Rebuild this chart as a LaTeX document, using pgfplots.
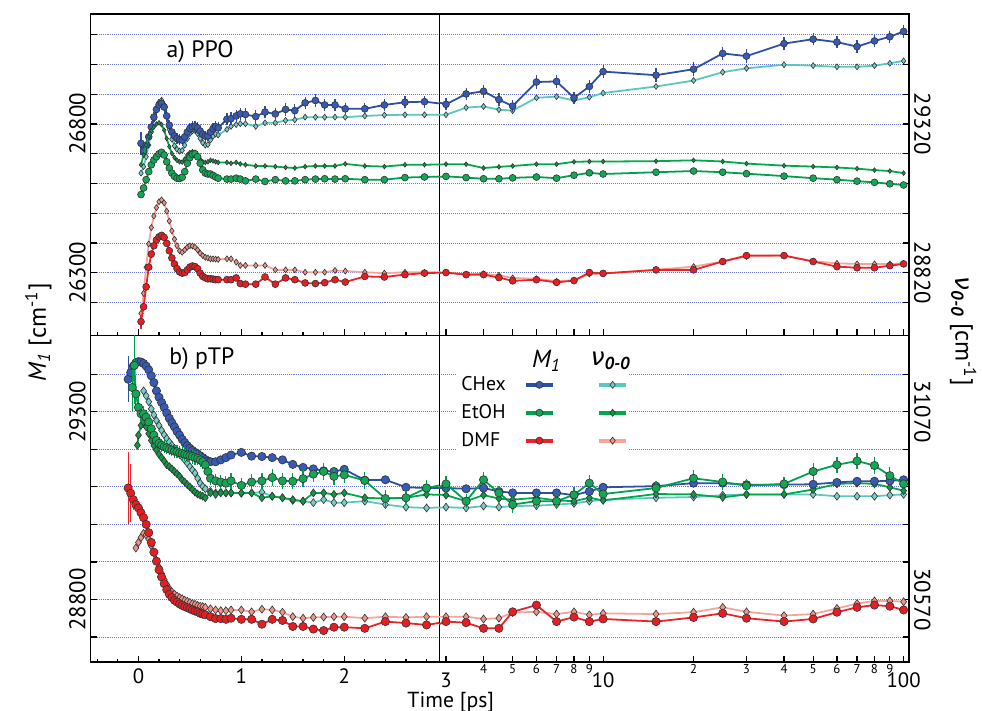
\documentclass[border=0pt]{standalone}
\usepackage{fontspec}
\setmainfont{PT Sans}
\newfontfamily\dv{DejaVu Sans}
\usepackage{pgfplots}
\usepackage{pgfplotstable}
\pgfplotsset{compat=1.18}

\definecolor{cM}{RGB}{45,80,165}
\definecolor{cMf}{RGB}{55,90,180}
\definecolor{cN}{RGB}{90,200,190}
\definecolor{cNf}{RGB}{120,205,200}
\definecolor{eM}{RGB}{0,160,80}
\definecolor{eMf}{RGB}{20,165,85}
\definecolor{eN}{RGB}{0,170,75}
\definecolor{eNf}{RGB}{20,150,70}
\definecolor{dM}{RGB}{235,35,40}
\definecolor{dMf}{RGB}{230,30,35}
\definecolor{dN}{RGB}{245,165,155}
\definecolor{dNf}{RGB}{235,150,140}
\definecolor{mk}{RGB}{50,50,50}
\definecolor{gridblue}{RGB}{110,120,220}

\pgfplotsset{
  panel/.style={scale only axis, anchor=north west, clip marker paths=true,
    scaled ticks=false,
    axis line style={line width=0.7pt}, tick align=inside,
    every tick/.style={black, line width=0.6pt},
    major tick length=3pt, minor tick length=1.8pt,
    xtick pos=left, yticklabels={},
    ymajorgrids, major grid style={gridblue, line width=0.45pt, dash pattern=on 0.5pt off 0.5pt},
    /pgf/number format/assume math mode=true,
    filter discard warning=false,
    xticklabel style={font=\fontsize{10.5}{12}\selectfont}},
  lin/.style={panel, xmin=-0.464, xmax=2.923, width=176.15pt, xtick={0,1,2},
    minor xtick={-0.4,-0.2,0.2,0.4,0.6,0.8,1.2,1.4,1.6,1.8,2.2,2.4,2.6,2.8},
    ytick pos=left},
  lg/.style={panel, xmin=2.848, xmax=104.3, width=237.5pt, xtick={3,10,100},
    extra x ticks={4,5,6,7,8,9,20,30,40,50,60,70,80,90},
    ytick pos=right},
  pa/.style={height=162.5pt, ymin=26090, ymax=27170, ytick={26200,26300,...,27100}},
  pb/.style={height=165.15pt, ymin=28633, ymax=29504, ytick={28700,28800,...,29400}},
  sCM/.style={draw=cM, line width=0.9pt, mark=*, mark size=#1, mark options={fill=cMf, draw=mk, line width=0.3pt}, forget plot},
  sCN/.style={draw=cN, line width=0.9pt, mark=diamond*, mark size=#1, mark options={fill=cNf, draw=mk, line width=0.3pt}, forget plot},
  sEM/.style={draw=eM, line width=0.9pt, mark=*, mark size=#1, mark options={fill=eMf, draw=mk, line width=0.3pt}, forget plot},
  sEN/.style={draw=eN, line width=0.9pt, mark=diamond*, mark size=#1, mark options={fill=eNf, draw=mk, line width=0.3pt}, forget plot},
  sDM/.style={draw=dM, line width=0.9pt, mark=*, mark size=#1, mark options={fill=dMf, draw=mk, line width=0.3pt}, forget plot},
  sDN/.style={draw=dN, line width=0.9pt, mark=diamond*, mark size=#1, mark options={fill=dNf, draw=mk, line width=0.3pt}, forget plot},
  ebar/.style={error bars/.cd, y dir=both, y explicit, error bar style={#1, line width=0.6pt},
    error mark options={#1, mark size=1.3pt, line width=0.6pt}},
}

\begin{document}

% ---------- a) PPO ----------
\pgfplotstableread{
t v e
0.025 26735 30
0.05 26709 12
0.075 26729 10
0.1 26757 10
0.125 26790 10
0.15 26823 10
0.175 26849 10
0.2 26864 10
0.225 26869 10
0.25 26857 10
0.275 26827 10
0.3 26796 10
0.325 26773 10
0.35 26760 10
0.375 26751 10
0.4 26747 10
0.425 26746 10
0.45 26757 10
0.475 26773 10
0.5 26785 10
0.525 26791 10
0.55 26793 10
0.575 26787 10
0.6 26776 10
0.625 26765 10
0.65 26759 10
0.675 26760 10
0.7 26773 10
0.725 26785 10
0.75 26791 10
0.775 26787 10
0.86 26816 12
0.90 26818 12
0.95 26827 12
0.99 26834 12
1.04 26832 12
1.14 26825 12
1.23 26840 12
1.33 26834 12
1.43 26849 12
1.52 26845 12
1.62 26871 12
1.72 26879 12
1.81 26864 12
1.91 26864 12
2.01 26851 12
2.2 26851 10
2.39 26864 12
2.59 26873 12
2.78 26875 12
3 26866 12
3.5 26901 12
4 26910 14
4.5 26882 12
5 26860 12
6 26941 14
7 26943 14
8 26888 12
9 26926 14
10 26976 14
15 26964 14
20 26984 14
25 27037 14
30 27028 14
40 27070 14
50 27085 12
60 27075 12
70 27060 12
80 27079 12
90 27093 12
100 27111 12
}\aCM

\pgfplotstableread{
t v
0.025 29155
0.05 29177
0.075 29210
0.1 29249
0.125 29293
0.15 29336
0.175 29371
0.2 29393
0.225 29400
0.25 29384
0.275 29347
0.3 29302
0.325 29269
0.35 29247
0.375 29235
0.4 29229
0.425 29231
0.45 29249
0.475 29271
0.5 29288
0.525 29297
0.55 29298
0.575 29288
0.6 29271
0.625 29257
0.65 29249
0.675 29251
0.7 29266
0.725 29279
0.75 29286
0.775 29283
0.86 29302
0.90 29312
0.95 29318
0.99 29321
1.04 29321
1.14 29312
1.23 29324
1.33 29324
1.43 29332
1.52 29334
1.62 29343
1.72 29343
1.81 29343
1.91 29343
2.01 29343
2.2 29347
2.39 29350
2.59 29351
2.78 29351
3 29351
3.5 29375
4 29379
4.5 29368
5 29365
6 29408
7 29412
8 29399
9 29410
10 29424
15 29446
20 29466
25 29494
30 29507
40 29519
50 29516
60 29512
70 29512
80 29516
90 29524
100 29532
}\aCN

\pgfplotstableread{
t v
0.025 26563
0.05 26585
0.075 26613
0.1 26640
0.125 26663
0.15 26679
0.175 26690
0.2 26700
0.225 26705
0.25 26696
0.275 26673
0.3 26652
0.325 26635
0.35 26624
0.375 26618
0.4 26617
0.425 26621
0.45 26640
0.475 26668
0.5 26687
0.525 26698
0.55 26700
0.575 26690
0.6 26668
0.625 26646
0.65 26635
0.675 26632
0.7 26632
0.725 26627
0.75 26622
0.775 26618
0.86 26615
0.90 26615
0.95 26618
0.99 26615
1.04 26609
1.14 26615
1.23 26607
1.33 26613
1.43 26609
1.52 26609
1.62 26613
1.72 26615
1.81 26616
1.91 26615
2.01 26616
2.2 26613
2.39 26613
2.59 26620
2.78 26622
3 26624
3.5 26620
4 26616
4.5 26616
5 26619
6 26622
7 26618
8 26628
9 26636
10 26632
15 26638
20 26642
25 26638
30 26633
40 26625
50 26618
60 26613
70 26608
80 26604
90 26599
100 26595
}\aEM

\pgfplotstableread{
t v
0.025 29183
0.05 29216
0.075 29249
0.1 29277
0.125 29297
0.15 29310
0.175 29320
0.2 29324
0.225 29318
0.25 29299
0.275 29271
0.3 29244
0.325 29221
0.35 29207
0.375 29198
0.4 29193
0.425 29192
0.45 29202
0.475 29216
0.5 29224
0.525 29227
0.55 29225
0.575 29216
0.6 29202
0.625 29193
0.65 29191
0.675 29193
0.7 29198
0.725 29196
0.75 29193
0.775 29191
0.86 29191
0.90 29188
0.95 29191
0.99 29186
1.04 29183
1.14 29179
1.23 29179
1.33 29177
1.43 29174
1.52 29172
1.62 29177
1.72 29179
1.81 29179
1.91 29179
2.01 29186
2.2 29179
2.39 29177
2.59 29183
2.78 29183
3 29185
3.5 29185
4 29172
4.5 29176
5 29179
6 29185
7 29185
8 29193
9 29194
10 29194
15 29195
20 29198
25 29194
30 29187
40 29180
50 29177
60 29174
70 29170
80 29165
90 29162
100 29155
}\aEN

\pgfplotstableread{
t v e
0.025 26136 15
0.05 26186 6
0.075 26253 0
0.1 26319 0
0.125 26363 0
0.15 26391 0
0.175 26410 0
0.2 26421 0
0.225 26426 0
0.25 26419 0
0.275 26399 0
0.3 26374 0
0.325 26350 0
0.35 26330 0
0.375 26314 0
0.4 26303 0
0.425 26299 0
0.45 26301 0
0.475 26310 0
0.5 26319 0
0.525 26323 0
0.55 26321 0
0.575 26314 0
0.6 26299 0
0.625 26288 0
0.65 26283 0
0.675 26280 0
0.7 26280 0
0.725 26279 0
0.75 26277 0
0.775 26277 0
0.86 26277 0
0.90 26277 0
0.95 26283 0
0.99 26264 0
1.04 26262 0
1.14 26262 0
1.23 26286 0
1.33 26262 0
1.43 26283 0
1.52 26277 0
1.62 26266 0
1.72 26264 0
1.81 26267 0
1.91 26277 0
2.01 26269 0
2.2 26288 0
2.39 26286 0
2.59 26294 0
2.78 26299 0
3 26301 0
3.5 26294 0
4 26294 0
4.5 26284 0
5 26273 0
6 26277 0
7 26268 0
8 26274 0
9 26301 0
10 26298 0
15 26310 0
20 26310 0
25 26338 0
30 26358 0
40 26358 0
50 26338 0
60 26321 0
70 26317 0
80 26317 0
90 26324 0
100 26330 0
}\aDM

\pgfplotstableread{
t v
0.025 28684
0.05 28751
0.075 28839
0.1 28917
0.125 28972
0.15 29011
0.175 29039
0.2 29059
0.225 29065
0.25 29055
0.275 29027
0.3 28994
0.325 28961
0.35 28933
0.375 28911
0.4 28894
0.425 28889
0.45 28897
0.475 28906
0.5 28911
0.525 28910
0.55 28906
0.575 28897
0.6 28886
0.625 28878
0.65 28872
0.675 28870
0.7 28867
0.725 28867
0.75 28866
0.775 28865
0.86 28867
0.90 28867
0.95 28856
0.99 28845
1.04 28845
1.14 28845
1.23 28845
1.33 28830
1.43 28830
1.52 28830
1.62 28822
1.72 28822
1.81 28822
1.91 28828
2.01 28826
2.2 28822
2.39 28819
2.59 28822
2.78 28822
3 28821
3.5 28814
4 28817
4.5 28812
5 28803
6 28800
7 28792
8 28795
9 28816
10 28817
15 28830
20 28841
25 28858
30 28875
40 28878
50 28859
60 28852
70 28850
80 28850
90 28850
100 28852
}\aDN

% ---------- b) pTP ----------
\pgfplotstableread{
t v e
-0.1 29387 55
-0.075 29405 0
-0.05 29422 0
-0.025 29431 0
0 29434 0
0.025 29433 0
0.05 29429 0
0.075 29422 0
0.1 29412 0
0.125 29396 0
0.15 29378 0
0.175 29356 0
0.2 29339 0
0.225 29325 0
0.25 29312 0
0.275 29297 0
0.3 29283 0
0.325 29271 0
0.35 29260 0
0.375 29248 0
0.4 29238 0
0.425 29227 0
0.45 29218 0
0.475 29210 0
0.5 29203 0
0.525 29197 0
0.55 29192 0
0.575 29188 0
0.6 29183 0
0.625 29178 0
0.65 29173 0
0.675 29169 0
0.7 29167 0
0.75 29167 0
0.8 29172 0
0.85 29178 0
0.9 29185 0
1.0 29192 0
1.1 29182 0
1.2 29181 0
1.3 29178 0
1.4 29172 0
1.5 29160 0
1.6 29152 0
1.7 29148 0
1.8 29143 0
1.9 29141 0
2.0 29147 0
2.2 29118 0
2.4 29119 0
2.6 29099 0
2.8 29097 0
3 29097 0
3.5 29095 0
4 29097 0
4.5 29088 0
5 29084 0
6 29084 0
7 29084 0
8 29078 0
9 29088 0
10 29099 0
15 29102 0
20 29110 0
25 29110 0
30 29106 0
40 29106 0
50 29107 0
60 29112 0
70 29115 0
80 29115 0
90 29116 0
100 29119 0
}\bCM

\pgfplotstableread{
t v
0.05 31126
0.075 31113
0.1 31097
0.125 31078
0.15 31062
0.175 31047
0.2 31034
0.225 31021
0.25 31009
0.275 30999
0.3 30990
0.325 30981
0.35 30973
0.375 30964
0.4 30957
0.425 30950
0.45 30942
0.475 30933
0.5 30924
0.525 30915
0.55 30907
0.575 30893
0.6 30880
0.625 30871
0.65 30865
0.7 30858
0.75 30854
0.8 30856
0.85 30854
0.9 30854
1.0 30853
1.1 30854
1.2 30856
1.3 30845
1.4 30841
1.5 30834
1.6 30832
1.7 30828
1.8 30836
1.9 30828
2.0 30828
2.2 30832
2.4 30823
2.6 30816
2.8 30814
3 30816
3.5 30814
4 30819
4.5 30816
5 30819
6 30820
7 30823
8 30826
9 30832
10 30836
15 30841
20 30843
25 30848
30 30850
40 30850
50 30850
60 30845
70 30845
80 30845
90 30848
100 30850
}\bCN

\pgfplotstableread{
t v e
-0.06 29365 55
-0.04 29424 95
-0.025 29348 40
0 29312 20
0.025 29295 15
0.05 29295 15
0.075 29286 12
0.1 29273 10
0.125 29255 10
0.15 29238 10
0.175 29224 10
0.2 29216 10
0.225 29211 10
0.25 29207 10
0.275 29204 10
0.3 29201 10
0.325 29198 10
0.35 29195 10
0.375 29194 10
0.4 29191 10
0.425 29189 12
0.45 29187 12
0.475 29185 12
0.5 29183 12
0.525 29181 12
0.55 29178 12
0.575 29176 12
0.6 29172 12
0.625 29167 12
0.65 29159 12
0.675 29141 12
0.7 29123 12
0.75 29116 12
0.8 29113 12
0.85 29110 12
0.9 29116 14
1.0 29104 14
1.1 29113 14
1.2 29116 14
1.3 29125 15
1.4 29116 15
1.5 29115 15
1.6 29122 15
1.7 29134 15
1.8 29141 15
1.9 29128 15
2.0 29132 15
2.2 29117 15
2.4 29069 15
2.6 29071 12
2.8 29097 15
3 29108 15
3.5 29062 12
4 29119 15
4.5 29084 12
5 29053 15
6 29062 12
7 29062 12
8 29079 15
9 29110 15
10 29081 12
15 29097 12
20 29123 15
25 29113 15
30 29103 12
40 29108 12
50 29141 15
60 29159 15
70 29169 15
80 29157 15
90 29130 15
100 29108 12
}\bEM

\pgfplotstableread{
t v
-0.01 30981
0 31008
0.025 31034
0.05 31043
0.075 31030
0.1 31012
0.125 30994
0.15 30980
0.175 30968
0.2 30957
0.225 30948
0.25 30939
0.275 30929
0.3 30924
0.325 30918
0.35 30911
0.375 30905
0.4 30898
0.425 30889
0.45 30883
0.475 30876
0.5 30870
0.525 30863
0.55 30856
0.575 30851
0.6 30848
0.625 30845
0.65 30841
0.7 30854
0.75 30850
0.8 30854
0.85 30854
0.9 30854
1.0 30854
1.1 30854
1.2 30841
1.3 30845
1.4 30841
1.5 30836
1.6 30832
1.7 30854
1.8 30854
1.9 30850
2.0 30854
2.2 30841
2.4 30839
2.6 30841
2.8 30850
3 30848
3.5 30832
4 30848
4.5 30839
5 30836
6 30841
7 30834
8 30832
9 30841
10 30834
15 30851
20 30850
25 30842
30 30850
40 30850
50 30863
60 30878
70 30880
80 30878
90 30869
100 30860
}\bEN

\pgfplotstableread{
t v e
-0.1 29097 88
-0.075 29083 70
-0.05 29066 20
-0.025 29053 10
0 29044 0
0.025 29031 0
0.05 29018 0
0.075 29000 0
0.1 28978 0
0.125 28952 0
0.15 28926 0
0.175 28902 0
0.2 28879 0
0.225 28860 0
0.25 28842 0
0.275 28826 0
0.3 28814 0
0.325 28805 0
0.35 28798 0
0.375 28793 0
0.4 28788 0
0.425 28784 0
0.45 28781 0
0.475 28778 0
0.5 28775 0
0.525 28772 0
0.55 28769 0
0.575 28767 0
0.6 28763 0
0.625 28761 0
0.65 28759 0
0.7 28754 0
0.75 28749 0
0.8 28749 0
0.85 28747 0
0.9 28750 0
1.0 28747 0
1.1 28747 0
1.2 28734 0
1.3 28747 0
1.4 28744 0
1.5 28728 0
1.6 28728 0
1.7 28721 0
1.8 28717 0
1.9 28726 0
2.0 28726 0
2.2 28723 0
2.4 28741 0
2.6 28737 0
2.8 28732 0
3 28741 0
3.5 28738 0
4 28723 0
4.5 28723 0
5 28767 0
6 28785 0
7 28741 0
8 28753 0
9 28741 0
10 28748 0
15 28741 0
20 28752 0
25 28763 0
30 28750 0
40 28741 0
50 28748 0
60 28766 0
70 28779 0
80 28785 0
90 28782 0
100 28772 0
}\bDM

\pgfplotstableread{
t v
-0.025 30707
0 30722
0.025 30735
0.05 30746
0.075 30742
0.1 30731
0.125 30713
0.15 30693
0.175 30674
0.2 30656
0.225 30639
0.25 30623
0.275 30610
0.3 30599
0.325 30590
0.35 30584
0.375 30579
0.4 30575
0.425 30572
0.45 30568
0.475 30565
0.5 30562
0.525 30559
0.55 30557
0.575 30554
0.6 30552
0.625 30551
0.65 30549
0.7 30545
0.75 30542
0.8 30540
0.85 30540
0.9 30542
1.0 30542
1.1 30537
1.2 30544
1.3 30542
1.4 30536
1.5 30524
1.6 30520
1.7 30522
1.8 30523
1.9 30524
2.0 30524
2.2 30520
2.4 30524
2.6 30522
2.8 30524
3 30524
3.5 30524
4 30518
4.5 30520
5 30535
6 30537
7 30531
8 30537
9 30529
10 30533
15 30531
20 30536
25 30549
30 30537
40 30527
50 30531
60 30546
70 30559
80 30566
90 30566
100 30564
}\bDN

\newcommand\seriesA{%
  \addplot[sCN=1.5pt] table[x=t, y expr=\thisrow{v}-2520] {\aCN};
  \addplot[sCM=1.75pt, ebar=cM] table[x=t, y=v, y error=e] {\aCM};
  \addplot[sEN=1.2pt] table[x=t, y expr=\thisrow{v}-2520] {\aEN};
  \addplot[sEM=1.75pt] table[x=t, y=v] {\aEM};
  \addplot[sDN=1.5pt] table[x=t, y expr=\thisrow{v}-2520] {\aDN};
  \addplot[sDM=1.75pt, ebar=dM] table[x=t, y=v, y error=e] {\aDM};
}
\newcommand\seriesB{%
  \addplot[sCN=2pt] table[x=t, y expr=\thisrow{v}-1770] {\bCN};
  \addplot[sEN=2pt] table[x=t, y expr=\thisrow{v}-1770] {\bEN};
  \addplot[sCM=2.1pt, ebar=cM] table[x=t, y=v, y error=e] {\bCM};
  \addplot[sEM=2.1pt, ebar=eM] table[x=t, y=v, y error=e] {\bEM};
  \addplot[sDN=2pt] table[x=t, y expr=\thisrow{v}-1770] {\bDN};
  \addplot[sDM=2.1pt, ebar=dM] table[x=t, y=v, y error=e] {\bDM};
}

\begin{tikzpicture}

\begin{axis}[lin, pa, at={(40.5pt,-7pt)}, xticklabels={}]
\seriesA
\end{axis}

\begin{semilogxaxis}[lg, pa, at={(216.65pt,-7pt)}, xticklabels={}, extra x tick labels={}]
\seriesA
\end{semilogxaxis}

\begin{axis}[lin, pb, at={(40.5pt,-169.5pt)}, xticklabels={0,1,2}]
\seriesB
\end{axis}

\begin{semilogxaxis}[lg, pb, at={(216.65pt,-169.5pt)}, xticklabels={3,10,100},
  xticklabel style={yshift=-2pt},
  extra x tick labels={4,5,6,7,8,9,2,3,4,5,6,7,8,9},
  extra x tick style={xticklabel style={font=\fontsize{6.5}{7}\selectfont, yshift=2pt, inner sep=1pt}},
  legend columns=2, legend plot pos=right, legend cell align=left,
  legend style={at={(0.038,0.888)}, anchor=north west, draw=none, fill=white,
    inner xsep=0pt, inner ysep=0pt, font=\fontsize{10}{11}\selectfont, row sep=1.5pt,
    /tikz/every odd column/.append style={column sep=7pt},
    /tikz/every even column/.append style={column sep=10pt}},
  legend image code/.code={\draw[mark repeat=2,mark phase=2,#1] plot coordinates {(0pt,0pt) (7pt,0pt) (14pt,0pt)};}]
\seriesB
\addlegendimage{draw=cM, line width=2pt, mark=*, mark size=1.8pt, mark options={fill=cMf, draw=mk, line width=0.3pt}}
\addlegendentry{CHex}
\addlegendimage{draw=cN, line width=2pt, mark=diamond*, mark size=1.8pt, mark options={fill=cNf, draw=mk, line width=0.3pt}}
\addlegendentry{\mbox{}}
\addlegendimage{draw=eM, line width=2pt, mark=*, mark size=1.8pt, mark options={fill=eMf, draw=mk, line width=0.3pt}}
\addlegendentry{EtOH}
\addlegendimage{draw=eN, line width=2pt, mark=diamond*, mark size=1.8pt, mark options={fill=eNf, draw=mk, line width=0.3pt}}
\addlegendentry{\mbox{}}
\addlegendimage{draw=dM, line width=2pt, mark=*, mark size=1.8pt, mark options={fill=dMf, draw=mk, line width=0.3pt}}
\addlegendentry{DMF}
\addlegendimage{draw=dN, line width=2pt, mark=diamond*, mark size=1.8pt, mark options={fill=dNf, draw=mk, line width=0.3pt}}
\addlegendentry{\mbox{}}
\end{semilogxaxis}

% y tick labels: M1 on the left, nu(0-0) on the right, centred beside the frame
\begin{scope}[every node/.style={anchor=center, inner sep=0pt, font=\fontsize{11.5}{13}\selectfont}]
\node[rotate=90] at (33.75pt,-62.67pt) {26800};
\node[rotate=90] at (33.75pt,-137.9pt) {26300};
\node[rotate=90] at (33.75pt,-208.18pt) {29300};
\node[rotate=90] at (33.75pt,-302.98pt) {28800};
\node[rotate=-90] at (460.85pt,-62.67pt) {29320};
\node[rotate=-90] at (460.85pt,-137.9pt) {28820};
\node[rotate=-90] at (460.85pt,-208.18pt) {31070};
\node[rotate=-90] at (460.85pt,-302.98pt) {30570};
\end{scope}

\node[font=\fontsize{12}{14}\selectfont] at (95.8pt,-26pt) {a) PPO};
\node[font=\fontsize{12}{14}\selectfont] at (96.7pt,-181.5pt) {b) pTP};
\node[font=\fontsize{12.5}{14}\selectfont] at (270.85pt,-182.5pt) {{\itshape M}\textsubscript{\itshape 1}};
\node[font=\fontsize{12.5}{14}\selectfont] at (303.35pt,-182.5pt) {{\dv\itshape ν}\textsubscript{\bfseries\itshape 0-0}};
\node[font=\fontsize{11}{12}\selectfont, inner sep=0pt] at (222.5pt,-355pt) {Time [ps]};
\node[rotate=90, font=\fontsize{12.5}{14}\selectfont] at (14pt,-168pt) {{\itshape M}\textsubscript{\itshape 1} [cm\textsuperscript{-1}]};
\node[rotate=-90, font=\fontsize{12.5}{14}\selectfont] at (481.5pt,-167.5pt) {{\dv\itshape ν}\textsubscript{\bfseries\itshape 0-0} [cm\textsuperscript{-1}]};

\pgfresetboundingbox
\path[use as bounding box] (0pt,0pt) rectangle (491pt,-359pt);
\end{tikzpicture}
\end{document}
